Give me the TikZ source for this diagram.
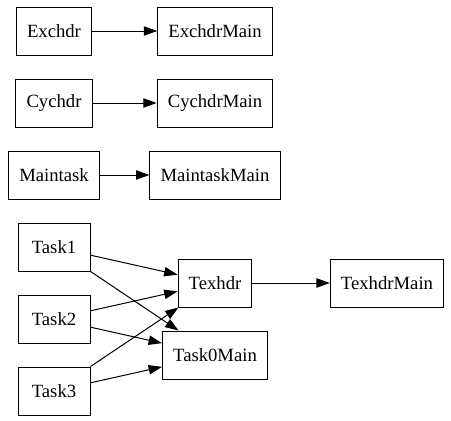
\documentclass[tikz,border=0pt]{standalone}
\usepackage{fontspec}
\setmainfont{Liberation Serif}
\usepackage{tikz}
\usetikzlibrary{arrows.meta}

\tikzset{
  task/.style={draw,line width=0.75pt,minimum width=54pt,minimum height=36pt,
    inner xsep=8pt,font=\fontsize{14}{17}\selectfont},
  dep/.style={-{Triangle[length=10pt,width=7pt]},line width=0.75pt}
}

\begin{document}
\begin{tikzpicture}[x=0.75pt,y=-0.75pt]
        \useasboundingbox (0,0) rectangle (451,421);
        % headers and their mains
        \node[task] (exchdr) at (54,31) {Exchdr};
        \node[task] (exchdrmain) at (215,31) {ExchdrMain};
        \node[task] (cychdr) at (54,103) {Cychdr};
        \node[task] (cychdrmain) at (215,103) {CychdrMain};
        \node[task] (maintask) at (54,175) {Maintask};
        \node[task] (maintaskmain) at (215,175) {MaintaskMain};
        % tasks
        \node[task] (task1) at (54,247) {Task1};
        \node[task] (task2) at (54,319) {Task2};
        \node[task] (task3) at (54,391) {Task3};
        \node[task] (texhdr) at (215,283) {Texhdr};
        \node[task] (texhdrmain) at (387,283) {TexhdrMain};
        \node[task] (task0main) at (215,355) {Task0Main};

        \draw[dep] (exchdr) -- (exchdrmain);
        \draw[dep] (cychdr) -- (cychdrmain);
        \draw[dep] (maintask) -- (maintaskmain);
        \draw[dep] (texhdr) -- (texhdrmain);
        \draw[dep] (task1) -- (texhdr);
        \draw[dep] (task1) -- (task0main);
        \draw[dep] (task2) -- (texhdr);
        \draw[dep] (task2) -- (task0main);
        \draw[dep] (task3) -- (texhdr);
        \draw[dep] (task3) -- (task0main);
    \end{tikzpicture}
\end{document}
